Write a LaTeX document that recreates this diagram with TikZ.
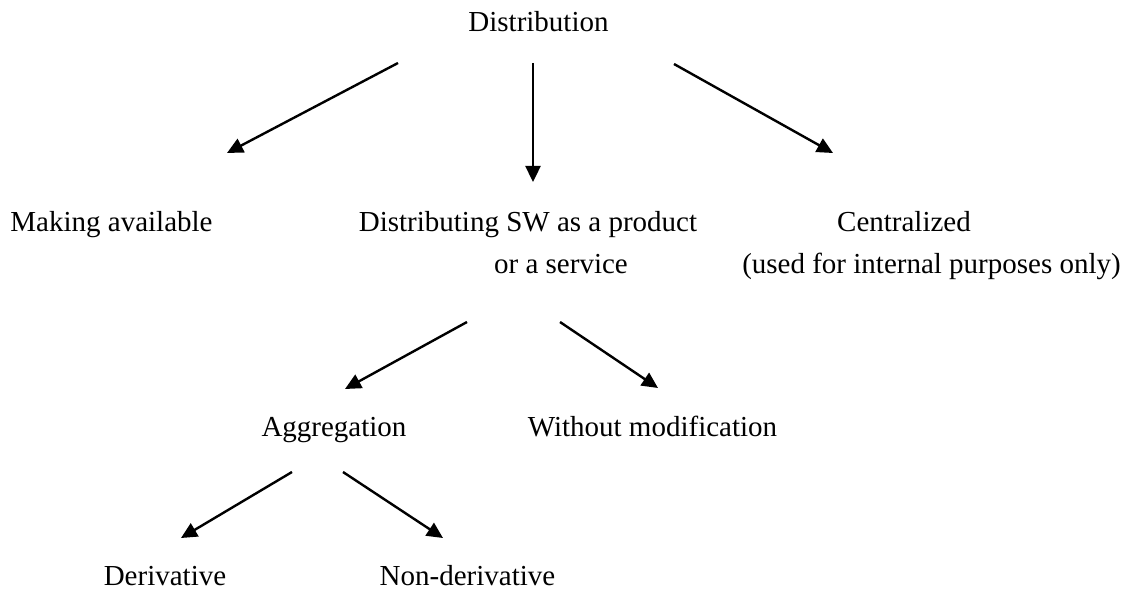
\documentclass[tikz,border=0pt]{standalone}
\usepackage{fontspec}
\setmainfont{Liberation Serif}
\usetikzlibrary{arrows.meta}
\begin{document}
\begin{tikzpicture}[x=1pt,y=-1pt,
  lbl/.style={inner sep=0pt,anchor=base,font=\fontsize{29}{34}\selectfont},
  arr/.style={line width=2.4pt,-{Triangle[length=16pt,width=15pt]}}]
\useasboundingbox (0,0) rectangle (1130,593);
% texts
\node[lbl] (dist) at (538.5,32) {Distribution};
\node[lbl] (make) at (111.5,232) {Making available};
\node[lbl] (prod) at (528,232) {Distributing SW as a product};
\node[lbl] (serv) at (561,274) {or a service};
\node[lbl] (cent) at (904,232) {Centralized};
\node[lbl] (used) at (931.5,274) {(used for internal purposes only)};
\node[lbl] (aggr) at (334,436) {Aggregation};
\node[lbl] (womod) at (652.5,436) {Without modification};
\node[lbl] (deriv) at (165,585) {Derivative};
\node[lbl] (nonder) at (467.5,585) {Non-derivative};
% arrow end points
\coordinate (d1) at (398,63);
\coordinate (d2) at (533,63);
\coordinate (d3) at (674,64);
\coordinate (m1) at (227,153);
\coordinate (p1) at (533,182);
\coordinate (c1) at (833,153);
\coordinate (s1) at (467,322);
\coordinate (s2) at (560,322);
\coordinate (a1) at (345,389);
\coordinate (w1) at (658,388);
\coordinate (g1) at (292,472);
\coordinate (g2) at (343,472);
\coordinate (e1) at (181,538);
\coordinate (n1) at (443,538);
% connectors
\draw[arr] (d1) -- (m1);
\draw[arr] (d2) -- (p1);
\draw[arr] (d3) -- (c1);
\draw[arr] (s1) -- (a1);
\draw[arr] (s2) -- (w1);
\draw[arr] (g1) -- (e1);
\draw[arr] (g2) -- (n1);
\end{tikzpicture}
\end{document}
